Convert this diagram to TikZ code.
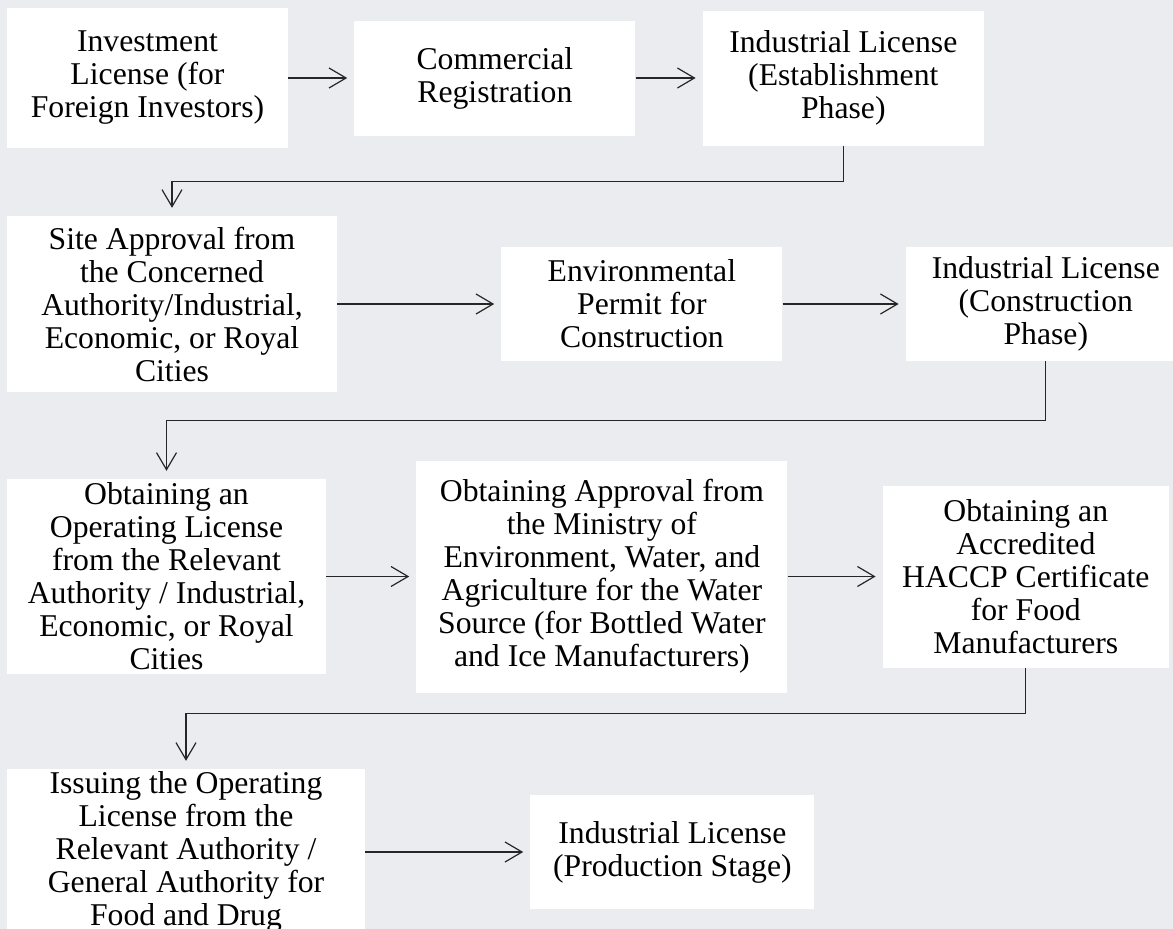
\documentclass[tikz,border=0pt]{standalone}
\usepackage{fontspec}
\setmainfont{Liberation Serif}
\usepackage{xcolor}
\usepackage{tikz}
\usetikzlibrary{arrows.meta, positioning}
\definecolor{pagebg}{RGB}{235,236,240}
\tikzstyle{stepbox} = [rectangle, fill=white, align=center, inner sep=0pt, font=\fontsize{31.7}{33}\selectfont]
\tikzstyle{arrow} = [line width=1.2pt, draw=black!85, -{Straight Barb[length=17pt, width=20pt]}, shorten >=7pt]

\begin{document}
\begin{tikzpicture}[x=1pt, y=-1pt]

\clip (0,0) rectangle (1173,929);
\fill [pagebg] (0,0) rectangle (1173,929);

% Row 1
\node (invest) [stepbox, minimum width=281pt, minimum height=140pt] at (147.5,78) {Investment\\License (for\\Foreign Investors)};
\node (commreg) [stepbox, right=66pt of invest, minimum width=281pt, minimum height=115pt] {Commercial\\Registration};
\node (indest) [stepbox, right=67pt of commreg, minimum width=281pt, minimum height=135pt] {Industrial License\\(Establishment\\Phase)};

% Row 2
\node (site) [stepbox, minimum width=330pt, minimum height=176pt] at (172,304) {Site Approval from\\the Concerned\\Authority/Industrial,\\Economic, or Royal\\Cities};
\node (envpermit) [stepbox, right=164pt of site, minimum width=281pt, minimum height=114pt] {Environmental\\Permit for\\Construction};
\node (indconst) [stepbox, right=123pt of envpermit, minimum width=280pt, minimum height=114pt] {Industrial License\\(Construction\\Phase)};

% Row 3
\node (oplicense) [stepbox, minimum width=319pt, minimum height=195pt] at (166.5,576.5) {Obtaining an\\Operating License\\from the Relevant\\Authority / Industrial,\\Economic, or Royal\\Cities};
\node (waterappr) [stepbox, right=90pt of oplicense, minimum width=371pt, minimum height=232pt] {Obtaining Approval from\\the Ministry of\\Environment, Water, and\\Agriculture for the Water\\Source (for Bottled Water\\and Ice Manufacturers)};
\node (haccp) [stepbox, right=95pt of waterappr, minimum width=286pt, minimum height=182pt] {Obtaining an\\Accredited\\HACCP Certificate\\for Food\\Manufacturers};

% Row 4
\node (issuing) [stepbox, minimum width=358pt, minimum height=166pt] at (186,852) {Issuing the Operating\\License from the\\Relevant Authority /\\General Authority for\\Food and Drug};
\node (indprod) [stepbox, right=165pt of issuing, minimum width=284pt, minimum height=114pt] {Industrial License\\(Production Stage)};

% Arrows
\draw [arrow] (invest) -- (commreg);
\draw [arrow] (commreg) -- (indest);
\draw [arrow, shorten >=8pt] (indest.south) -- ++(0,35.5) -| (site.north);
\draw [arrow] (site) -- (envpermit);
\draw [arrow] (envpermit) -- (indconst);
\draw [arrow, shorten >=8pt] (indconst.south) -- ++(0,59) -| (oplicense.north);
\draw [arrow] (oplicense) -- (waterappr);
\draw [arrow] (waterappr) -- (haccp);
\draw [arrow, shorten >=8pt] (haccp.south) -- ++(0,46) -| (issuing.north);
\draw [arrow] (issuing) -- (indprod);

\end{tikzpicture}
\end{document}
